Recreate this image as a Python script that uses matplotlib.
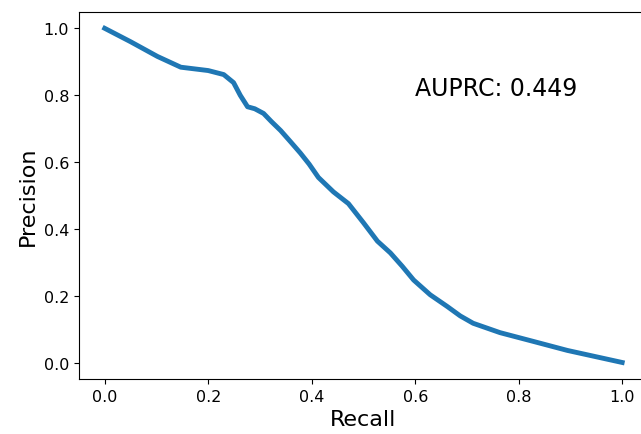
import numpy as np
import matplotlib
matplotlib.use("Agg")
import matplotlib.pyplot as plt

# Precision-Recall Kurve
recall = [0.0, 0.05, 0.102, 0.147, 0.2, 0.23, 0.249, 0.262, 0.276, 0.29, 0.307, 0.322,
          0.34, 0.36, 0.378, 0.395, 0.413, 0.442, 0.471, 0.5, 0.527, 0.552, 0.575,
          0.597, 0.629, 0.662, 0.687, 0.712, 0.764, 0.828, 0.894, 1.0]
precision = [1.0, 0.96, 0.916, 0.884, 0.874, 0.862, 0.838, 0.80, 0.766, 0.76, 0.746, 0.722,
             0.695, 0.66, 0.628, 0.595, 0.555, 0.512, 0.477, 0.42, 0.365, 0.33, 0.29,
             0.249, 0.205, 0.17, 0.142, 0.12, 0.092, 0.066, 0.039, 0.003]
auprc = 0.449

fig = plt.figure(figsize=(6.41, 4.35), dpi=100)
ax = fig.add_subplot(111)
# rechter Rand ist im Original abgeschnitten
fig.subplots_adjust(left=0.123, right=1.011, top=0.971, bottom=0.126)

ax.plot(recall, precision, color='#1f77b4', linewidth=3.5)
ax.text(0.6, 0.8, "AUPRC: {:.3f}".format(auprc), fontsize=17)

ax.set_xlabel("Recall", fontsize=16)
ax.set_ylabel("Precision", fontsize=16)
ax.tick_params(labelsize=11.5)
ax.set_xticks(np.arange(0, 1.01, 0.2))
ax.set_yticks(np.arange(0, 1.01, 0.2))

fig.savefig("out.png", dpi=100)
